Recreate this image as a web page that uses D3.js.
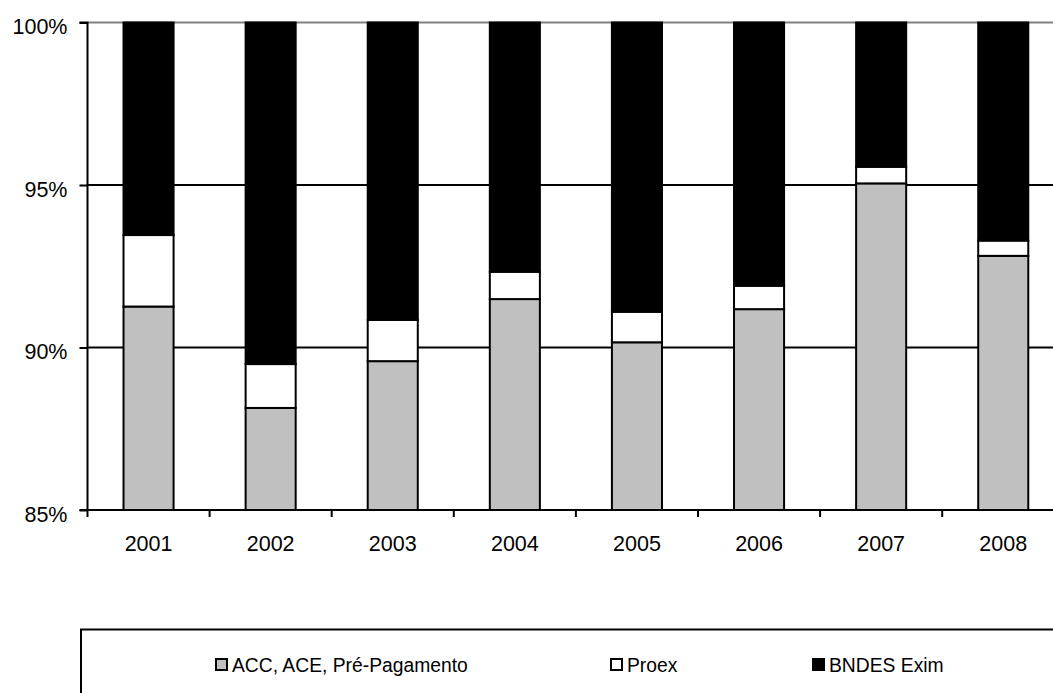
<!DOCTYPE html>
<html>
<head>
<meta charset="utf-8">
<script src="https://cdn.jsdelivr.net/npm/d3@7"></script>
<style>
  html, body { margin: 0; padding: 0; background: #fff; }
  svg { display: block; }
  svg text { font-family: "Liberation Sans", Arial, Helvetica, sans-serif; fill: #000; }
</style>
</head>
<body>
<svg id="chart" width="1053" height="693"></svg>
<script>
// Export financing shares by source, 2001-2008 (% of total)
const years = ["2001", "2002", "2003", "2004", "2005", "2006", "2007", "2008"];
const accShare   = [91.26, 88.14, 89.58, 91.49, 90.16, 91.18, 95.05, 92.82];
const proexShare = [2.20, 1.35, 1.27, 0.84, 0.94, 0.72, 0.51, 0.47];
const bndesShare = [6.54, 10.51, 9.15, 7.67, 8.90, 8.10, 4.44, 6.71];
const seriesNames = ["ACC, ACE, Pré-Pagamento", "Proex", "BNDES Exim"];
const seriesKeys = ["acc", "proex", "bndes"];
const seriesFills = ["#c0c0c0", "#ffffff", "#000000"];
const yTicks = [85, 90, 95, 100];

const rows = years.map((y, i) => ({
  year: y, acc: accShare[i], proex: proexShare[i], bndes: bndesShare[i]
}));

(function draw() {
  const svg = d3.select("#chart");
  const plotLeft = 87.5, plotTop = 22.5, plotBottom = 510;
  const step = 122.1;
  const axisFont = "21.5px";
  const legendFont = "19.3px";

  const x = d3.scaleBand()
    .domain(years)
    .range([plotLeft, plotLeft + step * years.length])
    .paddingInner(0.59)
    .paddingOuter(0.295);

  const y = d3.scaleLinear().domain([85, 100]).range([plotBottom, plotTop]);

  const stacked = d3.stack().keys(seriesKeys)(rows);

  // gridlines
  svg.append("g")
    .selectAll("line")
    .data(yTicks.filter(t => t > 85))
    .join("line")
    .attr("x1", plotLeft).attr("x2", 1053)
    .attr("y1", d => y(d)).attr("y2", d => y(d))
    .attr("stroke", d => d === 100 ? "#808080" : "#000")
    .attr("stroke-width", 2);

  // stacked bars, clipped to the visible range of the axis
  svg.append("defs").append("clipPath").attr("id", "plotClip")
    .append("rect").attr("x", plotLeft).attr("y", plotTop - 2)
    .attr("width", 1053 - plotLeft).attr("height", plotBottom - plotTop + 3);

  const barLayer = svg.append("g").attr("clip-path", "url(#plotClip)");
  stacked.forEach((layer, li) => {
    barLayer.append("g")
      .selectAll("rect")
      .data(layer)
      .join("rect")
      .attr("x", d => x(d.data.year))
      .attr("width", x.bandwidth())
      .attr("y", d => y(Math.min(d[1], 100)))
      .attr("height", d => y(Math.max(d[0], 85)) - y(Math.min(d[1], 100)))
      .attr("fill", seriesFills[li])
      .attr("stroke", "#000")
      .attr("stroke-width", 2);
  });

  // y axis
  const yAxis = d3.axisLeft(y)
    .tickValues(yTicks)
    .tickSize(8)
    .tickPadding(12)
    .tickFormat(d => d + "%");
  const yg = svg.append("g").attr("transform", `translate(${plotLeft},0)`).call(yAxis);
  yg.attr("font-family", null).attr("font-size", null);
  yg.select(".domain").attr("stroke", "#000").attr("stroke-width", 2)
    .attr("d", `M${-8},${plotTop}H0V${plotBottom}`);
  yg.selectAll(".tick line").attr("stroke", "#000").attr("stroke-width", 2);
  yg.selectAll(".tick text")
    .style("font-size", axisFont)
    .attr("dy", "0.52em");

  // x axis
  const xAxis = d3.axisBottom(x).tickSize(0).tickPadding(26);
  const xg = svg.append("g").attr("transform", `translate(0,${plotBottom})`).call(xAxis);
  xg.attr("font-family", null).attr("font-size", null);
  xg.select(".domain").attr("stroke", "#000").attr("stroke-width", 2)
    .attr("d", `M${plotLeft - 8},0H1053`);
  xg.selectAll(".tick text")
    .style("font-size", axisFont)
    .attr("dy", "0.68em");

  // category separators below the axis
  svg.append("g")
    .selectAll("line")
    .data(d3.range(years.length + 1))
    .join("line")
    .attr("x1", i => plotLeft + i * step).attr("x2", i => plotLeft + i * step)
    .attr("y1", plotBottom).attr("y2", plotBottom + 7)
    .attr("stroke", "#000").attr("stroke-width", 2);

  // legend
  const legend = svg.append("g");
  legend.append("rect")
    .attr("x", 81).attr("y", 629.5)
    .attr("width", 1000).attr("height", 100)
    .attr("fill", "none").attr("stroke", "#000").attr("stroke-width", 2);

  const legendX = [215, 610, 812];
  const items = legend.selectAll("g.item")
    .data(seriesNames)
    .join("g")
    .attr("class", "item")
    .attr("transform", (d, i) => `translate(${legendX[i]},658)`);
  items.append("rect")
    .attr("x", 1).attr("y", 1)
    .attr("width", 11).attr("height", 11)
    .attr("fill", (d, i) => seriesFills[i])
    .attr("stroke", "#000").attr("stroke-width", 2);
  items.append("text")
    .attr("x", 17).attr("y", 13.5)
    .style("font-size", legendFont)
    .text(d => d);
})();
</script>
</body>
</html>
